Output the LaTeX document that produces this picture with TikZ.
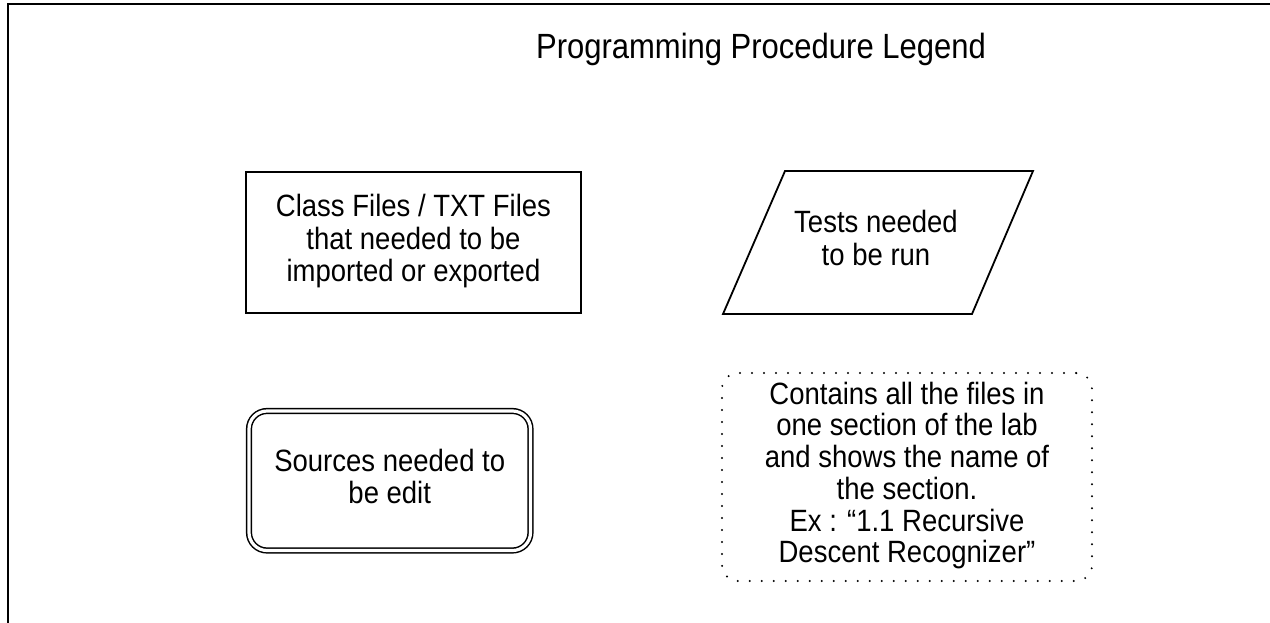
\documentclass[tikz,border=0pt]{standalone}
\usepackage{fontspec}
\usepackage{graphicx}
\setmainfont{Liberation Sans}
\newcommand{\stretchtext}[2]{\scalebox{1}[1.12]{\fontsize{27.5}{#1}\selectfont\begin{tabular}{@{}c@{}}#2\end{tabular}}}
\tikzset{
  frameline/.style={line width=2.8pt},
  boxtext/.style={align=center, inner sep=0pt},
  plainbox/.style={draw, line width=1.8pt, boxtext},
  dblbox/.style={draw, double, line width=1.5pt, double distance=3.2pt, rounded corners=18pt, boxtext},
  dotbox/.style={draw, line width=2.2pt, line cap=round, dash pattern=on 0pt off 12pt, rounded corners=16pt, boxtext},
  titletext/.style={font=\fontsize{31}{36}\selectfont, inner sep=0pt}
}
\begin{document}
\begin{tikzpicture}[x=1pt,y=-1pt]
\useasboundingbox (0,0) rectangle (1270,622);
% frame (top and left edges only)
\coordinate (ftr) at (1272,4);
\coordinate (ftl) at (8,4);
\coordinate (fbl) at (8,624);
\draw[frameline] (ftr) -- (ftl) -- (fbl);
% title
\node[titletext, anchor=base] (title) at (761,58) {\scalebox{1}[1.13]{Programming Procedure Legend}};
% rectangle
\node[plainbox, minimum width=335pt, minimum height=141pt] (files) at (413.5,242.5)
  {\stretchtext{29}{Class Files / TXT Files\\that needed to be\\imported or exported}};
% parallelogram
\coordinate (ptl) at (785,171);
\coordinate (ptr) at (1033,171);
\coordinate (pbr) at (972,314);
\coordinate (pbl) at (723,314);
\draw[line width=1.8pt, line join=miter] (ptl) -- (ptr) -- (pbr) -- (pbl) -- cycle;
\node[boxtext] (tests) at (876,242.5) {\stretchtext{29}{Tests needed\\to be run}};
% double rounded box
\node[dblbox, minimum width=281.5pt, minimum height=139.5pt] (sources) at (389.75,480.75)
  {\stretchtext{28}{Sources needed to\\be edit}};
% dotted rounded box
\node[dotbox, minimum width=370pt, minimum height=208pt] (section) at (907,477)
  {\stretchtext{28}{Contains all the files in\\one section of the lab\\and shows the name of\\the section.\\Ex : “1.1 Recursive\\Descent Recognizer”}};
\end{tikzpicture}
\end{document}
